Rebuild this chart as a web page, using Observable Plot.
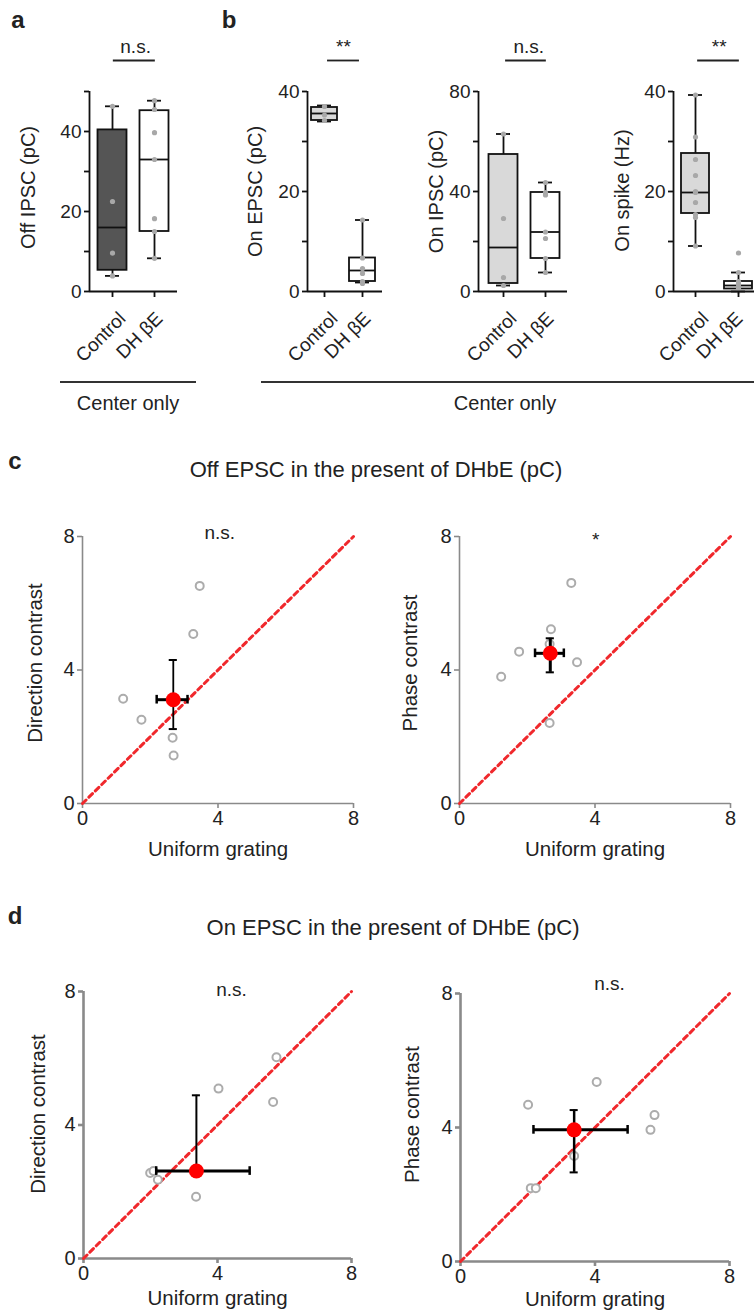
<!DOCTYPE html>
<html><head><meta charset="utf-8">
<script src="https://cdn.jsdelivr.net/npm/d3@7"></script>
<script src="https://cdn.jsdelivr.net/npm/@observablehq/plot@0.6"></script>
<style>
body{margin:0;background:#fff;}
#fig{position:relative;width:754px;height:1312px;overflow:hidden;font-family:"Liberation Sans",Arial,sans-serif;color:#222;background:#fff;}
#fig svg{position:absolute;overflow:visible;background:transparent;}
.lab{position:absolute;font-weight:bold;font-size:24px;line-height:1;transform:translate(-50%,-50%);}
.txt{position:absolute;font-size:20px;line-height:1;white-space:nowrap;transform:translate(-50%,-50%);}
.title{position:absolute;font-size:22px;line-height:1;white-space:nowrap;transform:translate(-50%,-50%);}
.hline{position:absolute;height:2px;background:#333;}
</style></head><body><div id="fig"></div>
<script>
// ---------- data ----------
const categories = ["Control", "DH βE"];

// box stats per category: [min, q1, median, q3, max]
const offIpscStats = [[3.9, 5.3, 16.0, 40.4, 46.3], [8.3, 15.0, 33.0, 45.2, 47.7]];
const offIpscControl = [46.3, 22.5, 9.6, 3.9];
const offIpscDhbe = [47.7, 45.5, 39.7, 33.0, 18.2, 15.0, 8.3];

const onEpscStats = [[34.0, 34.2, 35.6, 36.8, 37.2], [1.8, 2.0, 4.2, 6.7, 14.3]];
const onEpscControl = [37.0, 35.3, 34.2];
const onEpscDhbe = [14.3, 6.7, 4.6, 3.6, 2.0, 1.6];

const onIpscStats = [[2.4, 3.2, 17.6, 54.8, 63.0], [7.6, 13.2, 23.8, 39.6, 43.6]];
const onIpscControl = [63.0, 29.2, 5.6, 2.4];
const onIpscDhbe = [43.6, 39.6, 38.6, 23.8, 21.2, 13.2, 7.6];

const onSpikeStats = [[9.1, 15.6, 19.8, 27.6, 39.3], [0.0, 0.5, 1.2, 2.0, 3.8]];
const onSpikeControl = [39.3, 30.9, 26.4, 23.2, 20.0, 19.8, 17.8, 15.4, 14.8, 9.1];
const onSpikeDhbe = [7.7, 3.8, 2.0, 1.5, 1.0, 0.6, 0.3, 0.1];

// scatter panels (c, d)
const scatterTicks = [0, 4, 8];
const unityLine = [0, 8];

const offDirUniform = [1.20, 1.74, 2.66, 2.69, 3.27, 3.46];
const offDirContrast = [3.14, 2.51, 1.97, 1.44, 5.08, 6.52];
const offDirMean = [2.68, 3.11], offDirErrX = [2.19, 3.10], offDirErrY = [2.23, 4.30];

const offPhaseUniform = [1.23, 1.76, 2.66, 2.70, 2.66, 3.30, 3.47];
const offPhaseContrast = [3.80, 4.55, 2.41, 5.22, 4.78, 6.61, 4.23];
const offPhaseMean = [2.68, 4.50], offPhaseErrX = [2.23, 3.08], offPhaseErrY = [3.93, 4.95];

const onDirUniform = [1.99, 2.09, 2.22, 3.36, 4.03, 5.66, 5.76];
const onDirContrast = [2.56, 2.62, 2.36, 1.85, 5.09, 4.69, 6.03];
const onDirMean = [3.37, 2.62], onDirErrX = [2.17, 4.96], onDirErrY = [2.62, 4.89];

const onPhaseUniform = [2.01, 2.09, 2.24, 3.38, 4.05, 5.65, 5.77];
const onPhaseContrast = [4.68, 2.19, 2.19, 3.15, 5.36, 3.93, 4.37];
const onPhaseMean = [3.38, 3.93], onPhaseErrX = [2.17, 4.97], onPhaseErrY = [2.66, 4.52];

// ---------- helpers ----------
const fig = document.getElementById("fig");
const FONT = "'Liberation Sans', Arial, sans-serif";
function place(el, left, top) { el.style.left = left + "px"; el.style.top = top + "px"; fig.appendChild(el); }
function div(cls, text, x, y) {
  const d = document.createElement("div"); d.className = cls; d.textContent = text;
  d.style.left = x + "px"; d.style.top = y + "px"; fig.appendChild(d); return d;
}
function hline(x, y, w) { const d = document.createElement("div"); d.className = "hline";
  d.style.left = x + "px"; d.style.top = y + "px"; d.style.width = w + "px"; fig.appendChild(d); }

const Y0 = 291, YT = 91; // px of y=0 and y=top
function boxPanel(g) {
  const unit = g.t2 - g.t1;
  const xmin = 1 - (g.t1 - g.spine) / unit, xmax = 2 + (g.end - g.t2) / unit;
  const hw = g.hw / unit, cap = 7 / unit;
  const rows = g.stats.map((s, i) => ({pos: i + 1, min: s[0], q1: s[1], med: s[2], q3: s[3], max: s[4], fill: i ? "white" : g.ctrlFill}));
  const pts = g.ctrl.map(v => ({pos: 1, v})).concat(g.dhbe.map(v => ({pos: 2, v})));
  const pxToY = px => g.yMax * (Y0 - px) / (Y0 - YT);
  const W = g.width, H = 400;
  const svg = Plot.plot({
    width: W, height: H,
    marginLeft: g.spine - g.left, marginRight: W - (g.end - g.left), marginTop: YT, marginBottom: H - Y0,
    x: {domain: [xmin, xmax]}, y: {domain: [0, g.yMax]},
    style: {fontFamily: FONT, background: "transparent", overflow: "visible", color: "#222"},
    marks: [
      Plot.ruleX(rows, {x: "pos", y1: "min", y2: "q1", stroke: "#111", strokeWidth: 1.8}),
      Plot.ruleX(rows, {x: "pos", y1: "q3", y2: "max", stroke: "#111", strokeWidth: 1.8}),
      Plot.ruleY(rows, {y: "min", x1: d => d.pos - cap, x2: d => d.pos + cap, stroke: "#111", strokeWidth: 1.8}),
      Plot.ruleY(rows, {y: "max", x1: d => d.pos - cap, x2: d => d.pos + cap, stroke: "#111", strokeWidth: 1.8}),
      Plot.rect(rows, {x1: d => d.pos - hw, x2: d => d.pos + hw, y1: "q1", y2: "q3", fill: "fill", stroke: "#111", strokeWidth: 1.8}),
      Plot.ruleY(rows, {y: "med", x1: d => d.pos - hw, x2: d => d.pos + hw, stroke: "#111", strokeWidth: 1.8}),
      Plot.dot(pts, {x: "pos", y: "v", r: 2.6, fill: "#a8a8a8"}),
      Plot.ruleX([xmin], {y1: 0, y2: g.yMax, stroke: "#111", strokeWidth: 1.8}),
      Plot.ruleY([0], {x1: xmin, x2: xmax, stroke: "#111", strokeWidth: 1.8}),
      Plot.axisY({ticks: g.yTicks, tickFormat: d => g.yLabels.includes(d) ? d : "", tickSize: 5, tickPadding: 3,
                  fontSize: 19, stroke: "#111", strokeWidth: 1.8, fill: "#222", label: null}),
      Plot.axisX({ticks: [1, 2], tickFormat: () => "", tickSize: 6, stroke: "#111", strokeWidth: 1.8, label: null}),
      Plot.text([{pos: 1, c: categories[0]}], {x: "pos", y: 0, text: "c", dx: 10, dy: 24, rotate: -45, textAnchor: "end", lineAnchor: "middle", fontSize: 19, fill: "#222"}),
      Plot.text([{pos: 2, c: categories[1]}], {x: "pos", y: 0, text: "c", dx: g.dhDx, dy: 24, rotate: -45, textAnchor: "end", lineAnchor: "middle", fontSize: 19, fill: "#222"}),
      Plot.text([g.ylabel], {frameAnchor: "left", dx: g.labX - g.spine, dy: g.labDy, rotate: -90, textAnchor: "middle", lineAnchor: "middle", fontSize: 20, fill: "#222"}),
      Plot.ruleY([pxToY(60)], {x1: g.br[0], x2: g.br[1], stroke: "#222", strokeWidth: 1.8}),
      Plot.text([g.sig], {x: g.sigX, y: pxToY(46), fontSize: 19, fill: "#222"})
    ]
  });
  place(svg, g.left, 0);
}

function scatterPanel(g) {
  const W = 377, H = g.height;
  const pts = g.u.map((u, i) => ({u, c: g.c[i]}));
  const m = [{x: g.mean[0], y: g.mean[1], x1: g.ex[0], x2: g.ex[1], y1: g.ey[0], y2: g.ey[1]}];
  const capY = 0.13, capX = 0.12;
  const svg = Plot.plot({
    width: W, height: H,
    marginLeft: g.x0 - g.left, marginRight: W - (g.x8 - g.left), marginTop: g.y8 - g.top, marginBottom: g.top + H - g.y0,
    x: {domain: [0, 8]}, y: {domain: [0, 8]},
    style: {fontFamily: FONT, background: "transparent", overflow: "visible", color: "#222"},
    marks: [
      Plot.ruleX([0], {y1: 0, y2: 8, stroke: "#8a8a8a", strokeWidth: g.aw}),
      Plot.ruleY([0], {x1: 0, x2: 8, stroke: "#8a8a8a", strokeWidth: g.aw}),
      Plot.axisY({ticks: scatterTicks, tickSize: 5, tickPadding: 3, fontSize: 20, stroke: "#8a8a8a", strokeWidth: g.aw, fill: "#222", label: null}),
      Plot.axisX({ticks: scatterTicks, tickSize: 5, tickPadding: 2, fontSize: 20, stroke: "#8a8a8a", strokeWidth: g.aw, fill: "#222", label: null}),
      Plot.line(unityLine, {x: d => d, y: d => d, stroke: "#f0282c", strokeWidth: 3, strokeDasharray: "5,4"}),
      Plot.dot(pts, {x: "u", y: "c", r: 4, stroke: "#acacac", strokeWidth: 2, fill: "white"}),
      Plot.ruleX(m, {x: "x", y1: "y1", y2: "y2", stroke: "#000", strokeWidth: g.vw}),
      Plot.ruleY(m, {y: "y1", x1: d => d.x - capX, x2: d => d.x + capX, stroke: "#000", strokeWidth: 2}),
      Plot.ruleY(m, {y: "y2", x1: d => d.x - capX, x2: d => d.x + capX, stroke: "#000", strokeWidth: 2}),
      Plot.ruleY(m, {y: "y", x1: "x1", x2: "x2", stroke: "#000", strokeWidth: 3}),
      Plot.ruleX(m, {x: "x1", y1: d => d.y - capY, y2: d => d.y + capY, stroke: "#000", strokeWidth: 2.5}),
      Plot.ruleX(m, {x: "x2", y1: d => d.y - capY, y2: d => d.y + capY, stroke: "#000", strokeWidth: 2.5}),
      Plot.dot(m, {x: "x", y: "y", r: 7.5, fill: "#ff0000"}),
      Plot.text([g.ylabel], {frameAnchor: "left", dx: g.labX - g.x0, dy: g.labDy, rotate: -90, textAnchor: "middle", lineAnchor: "middle", fontSize: 20.5, fill: "#222"}),
      Plot.text(["Uniform grating"], {frameAnchor: "bottom", dy: g.xlabDy, textAnchor: "middle", lineAnchor: "middle", fontSize: 20.5, fill: "#222"}),
      Plot.text([g.sig], {x: g.sigPos[0], y: g.sigPos[1], fontSize: 19, fill: "#222"})
    ]
  });
  place(svg, g.left, g.top);
}

// ---------- panels a, b ----------
boxPanel({left: 0, width: 240, spine: 89, t1: 112, t2: 154, end: 177, hw: 14.5, yMax: 50,
  yTicks: [0, 10, 20, 30, 40, 50], yLabels: [0, 20, 40], ctrlFill: "#555555", dhDx: 5,
  stats: offIpscStats, ctrl: offIpscControl, dhbe: offIpscDhbe, ylabel: "Off IPSC (pC)", labX: 28, labDy: -4,
  sig: "n.s.", sigX: 1.55, br: [1.02, 2.02]});
boxPanel({left: 240, width: 160, spine: 307, t1: 324, t2: 362, end: 382, hw: 13, yMax: 40,
  yTicks: [0, 10, 20, 30, 40], yLabels: [0, 20, 40], ctrlFill: "#d9d9d9", dhDx: 5,
  stats: onEpscStats, ctrl: onEpscControl, dhbe: onEpscDhbe, ylabel: "On EPSC (pC)", labX: 255, labDy: 0,
  sig: "**", sigX: 1.5, br: [1.08, 1.92]});
boxPanel({left: 400, width: 180, spine: 478, t1: 503, t2: 545, end: 567, hw: 14.5, yMax: 80,
  yTicks: [0, 20, 40, 60, 80], yLabels: [0, 40, 80], ctrlFill: "#d9d9d9", dhDx: 5,
  stats: onIpscStats, ctrl: onIpscControl, dhbe: onIpscDhbe, ylabel: "On IPSC (pC)", labX: 436, labDy: 0,
  sig: "n.s.", sigX: 1.6, br: [1.05, 2.02]});
boxPanel({left: 590, width: 164, spine: 673, t1: 695, t2: 738, end: 754, hw: 14, yMax: 40,
  yTicks: [0, 10, 20, 30, 40], yLabels: [0, 20, 40], ctrlFill: "#d9d9d9", dhDx: 1,
  stats: onSpikeStats, ctrl: onSpikeControl, dhbe: onSpikeDhbe, ylabel: "On spike (Hz)", labX: 622, labDy: -1,
  sig: "**", sigX: 1.55, br: [1.05, 2.02]});

div("lab", "a", 18, 20);
div("lab", "b", 229, 20);
hline(60, 381, 136);
hline(261, 381, 493);
div("txt", "Center only", 128, 403);
div("txt", "Center only", 505, 403);

// ---------- panels c, d ----------
div("lab", "c", 15, 461);
div("title", "Off EPSC in the present of DHbE (pC)", 376, 470);
scatterPanel({left: 0, top: 500, height: 370, x0: 82, x8: 353, y0: 803, y8: 536, aw: 1.6, vw: 1.8,
  u: offDirUniform, c: offDirContrast, mean: offDirMean, ex: offDirErrX, ey: offDirErrY,
  ylabel: "Direction contrast", labX: 35, labDy: -7, xlabDy: 46, sig: "n.s.", sigPos: [4.05, 8.1]});
scatterPanel({left: 377, top: 500, height: 370, x0: 459, x8: 730, y0: 803, y8: 536, aw: 1.6, vw: 3,
  u: offPhaseUniform, c: offPhaseContrast, mean: offPhaseMean, ex: offPhaseErrX, ey: offPhaseErrY,
  ylabel: "Phase contrast", labX: 410, labDy: -7, xlabDy: 46, sig: "*", sigPos: [4.02, 7.9]});

div("lab", "d", 15, 916);
div("title", "On EPSC in the present of DHbE (pC)", 393, 928);
scatterPanel({left: 0, top: 960, height: 352, x0: 83, x8: 351, y0: 1258, y8: 991, aw: 2.6, vw: 2,
  u: onDirUniform, c: onDirContrast, mean: onDirMean, ex: onDirErrX, ey: onDirErrY,
  ylabel: "Direction contrast", labX: 38, labDy: -11, xlabDy: 40, sig: "n.s.", sigPos: [4.42, 8.05]});
scatterPanel({left: 377, top: 960, height: 352, x0: 460, x8: 729, y0: 1261, y8: 993, aw: 2.6, vw: 2.5,
  u: onPhaseUniform, c: onPhaseContrast, mean: onPhaseMean, ex: onPhaseErrX, ey: onPhaseErrY,
  ylabel: "Phase contrast", labX: 412, labDy: -13, xlabDy: 38, sig: "n.s.", sigPos: [4.43, 8.3]});
</script></body></html>
